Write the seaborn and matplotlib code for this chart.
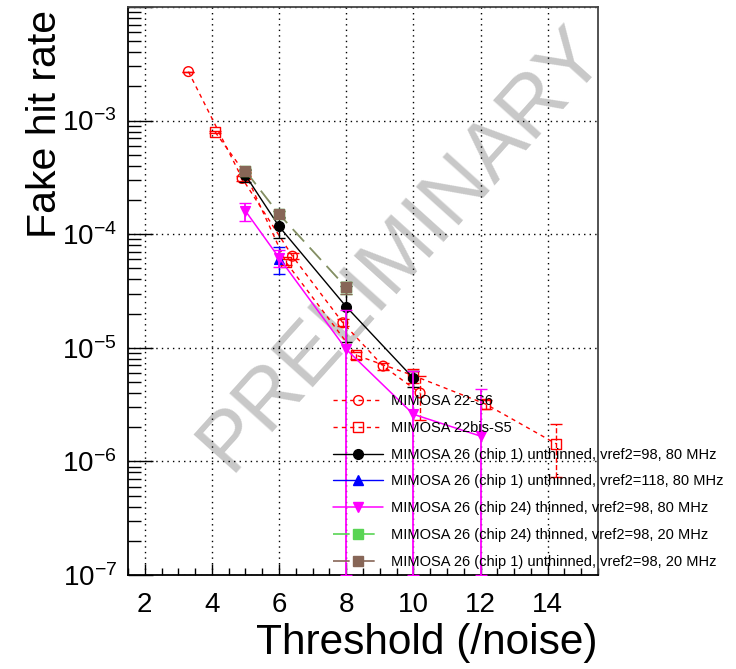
import numpy as np
import matplotlib
matplotlib.use("Agg")
import matplotlib.pyplot as plt
import seaborn as sns
from matplotlib.lines import Line2D
from matplotlib.ticker import MultipleLocator, LogLocator, FuncFormatter, NullFormatter

# MIMOSA 22-S6
s6_thr = [3.3, 4.9, 6.4, 7.9, 9.1, 10.2]
s6_rate = [2.7e-3, 3.1e-4, 6.4e-5, 1.66e-5, 6.9e-6, 4.0e-6]
s6_err = [0, 1.5e-5, 4e-6, 1.2e-6, 5e-7, 1.7e-6]

# MIMOSA 22bis-S5
s5_thr = [4.1, 5.0, 6.2, 8.3, 10.0, 12.15, 14.25]
s5_rate = [7.9e-4, 3.4e-4, 5.7e-5, 8.6e-6, 5.7e-6, 3.2e-6, 1.43e-6]
s5_err = [2e-5, 1.5e-5, 3e-6, 6e-7, 8e-7, 3e-7, 7e-7]

# MIMOSA 26 (chip 1) unthinned, vref2=98, 80 MHz
c1_80_thr = [5, 6, 8, 10]
c1_80_rate = [3.3e-4, 1.17e-4, 2.3e-5, 5.4e-6]
c1_80_err = [4e-5, 2.4e-5, 1.17e-5, 9e-7]

# MIMOSA 26 (chip 1) unthinned, vref2=118, 80 MHz
c1_118_thr = [6]
c1_118_rate = [6.1e-5]
c1_118_err = [1.6e-5]

# MIMOSA 26 (chip 24) thinned, vref2=98, 80 MHz
c24_80_thr = [5, 6, 8, 10, 12]
c24_80_rate = [1.6e-4, 6.2e-5, 9.7e-6, 2.6e-6, 1.67e-6]
c24_80_errlo = [2.9e-5, 1.1e-5, 9.7e-6, 2.6e-6, 1.67e-6]
c24_80_errhi = [2.8e-5, 1.1e-5, 1.2e-5, 3.6e-6, 2.7e-6]

# MIMOSA 26 (chip 24) thinned, vref2=98, 20 MHz
c24_20_thr = [5, 6, 8]
c24_20_rate = [3.6e-4, 1.5e-4, 3.4e-5]
c24_20_err = [1.7e-5, 1e-5, 4e-6]

# MIMOSA 26 (chip 1) unthinned, vref2=98, 20 MHz
c1_20_thr = [5, 6, 8]
c1_20_rate = [3.6e-4, 1.5e-4, 3.4e-5]
c1_20_err = [1.7e-5, 1e-5, 4e-6]

labels = ["MIMOSA 22-S6", "MIMOSA 22bis-S5",
          "MIMOSA 26 (chip 1) unthinned, vref2=98, 80 MHz",
          "MIMOSA 26 (chip 1) unthinned, vref2=118, 80 MHz",
          "MIMOSA 26 (chip 24) thinned, vref2=98, 80 MHz",
          "MIMOSA 26 (chip 24) thinned, vref2=98, 20 MHz",
          "MIMOSA 26 (chip 1) unthinned, vref2=98, 20 MHz"]

YMIN, YMAX = 1e-7, 1e-2

sns.set_style("white")
plt.rcParams["font.family"] = ["Liberation Sans", "DejaVu Sans"]
plt.rcParams["mathtext.fontset"] = "custom"
plt.rcParams["mathtext.rm"] = "Liberation Sans"
plt.rcParams["text.color"] = "black"
plt.rcParams["axes.labelcolor"] = "black"
plt.rcParams["xtick.color"] = "black"
plt.rcParams["ytick.color"] = "black"

fig = plt.figure(figsize=(7.36, 6.69), dpi=100)
ax = fig.add_axes([128 / 736, 94 / 669, 470 / 736, 568 / 669])

red = "#ff0000"
brown = "#876657"
green = "#59d454"
magenta = "#ff00ff"

series = [
    dict(x=s6_thr, y=s6_rate, lo=s6_err, hi=s6_err, color=red, ls=(0, (3, 3)), lw=1,
         marker="o", mfc="none", ms=7, elw=1, els="--"),
    dict(x=s5_thr, y=s5_rate, lo=s5_err, hi=s5_err, color=red, ls=(0, (3, 3)), lw=1,
         marker="s", mfc="none", ms=7, elw=1, els="--"),
    dict(x=c1_80_thr, y=c1_80_rate, lo=c1_80_err, hi=c1_80_err, color="black", ls="-", lw=1,
         marker="o", mfc="black", ms=7, elw=1, els="-"),
    dict(x=c1_118_thr, y=c1_118_rate, lo=c1_118_err, hi=c1_118_err, color="#0000ff", ls="-", lw=1,
         marker="^", mfc="#0000ff", ms=7, elw=1, els="-"),
    dict(x=c24_80_thr, y=c24_80_rate, lo=c24_80_errlo, hi=c24_80_errhi, color=magenta, ls="-", lw=1.1,
         marker="v", mfc=magenta, ms=7, elw=1.3, els="-"),
    dict(x=c24_20_thr, y=c24_20_rate, lo=c24_20_err, hi=c24_20_err, color=green, ls=(0, (10, 5)), lw=1.2,
         marker="s", mfc=green, ms=7, elw=1, els="-"),
    dict(x=c1_20_thr, y=c1_20_rate, lo=c1_20_err, hi=c1_20_err, color=brown, ls=(0, (10, 5)), lw=1.2,
         marker="s", mfc=brown, ms=7, elw=1, els="-"),
]

# watermark
ax.text(0.58, 0.575, "PRELIMINARY", transform=ax.transAxes, rotation=48,
        ha="center", va="center", fontsize=60, color="#c8c8c8", zorder=0)

handles = []
for i, s in enumerate(series):
    y = np.array(s["y"])
    low = np.maximum(y - np.array(s["lo"]), YMIN)
    high = y + np.array(s["hi"])
    eb = ax.errorbar(s["x"], y, yerr=[y - low, high - y], fmt="none",
                     ecolor=s["color"], elinewidth=s["elw"], capsize=4,
                     capthick=1, zorder=3 + i)
    eb[2][0].set_linestyle(s["els"])
    alpha = 0.7 if s["color"] in (green, brown) else 1.0
    sns.lineplot(x=s["x"], y=s["y"], ax=ax, estimator=None, sort=False,
                 color=s["color"], linestyle=s["ls"], linewidth=s["lw"], alpha=alpha,
                 zorder=3 + i)
    sns.scatterplot(x=s["x"], y=s["y"], ax=ax, marker=s["marker"], s=s["ms"] ** 2,
                    facecolor=s["mfc"], edgecolor=s["color"], linewidth=1,
                    zorder=4 + i)
    handles.append(Line2D([], [], color=s["color"], linestyle=s["ls"], linewidth=s["lw"],
                          marker=s["marker"], markersize=s["ms"], markerfacecolor=s["mfc"],
                          markeredgecolor=s["color"]))

ax.set_yscale("log")
ax.set_xlim(1.5, 15.5)
ax.set_ylim(YMIN, YMAX)

ax.xaxis.set_major_locator(MultipleLocator(2))
ax.xaxis.set_minor_locator(MultipleLocator(0.5))
ax.yaxis.set_major_locator(LogLocator(base=10))
ax.yaxis.set_minor_locator(LogLocator(base=10, subs=np.arange(2, 10)))
ax.yaxis.set_minor_formatter(NullFormatter())
ax.yaxis.set_major_formatter(FuncFormatter(
    lambda v, p: r"$\mathregular{10^{%d}}$" % round(np.log10(v)) if v < 2e-3 else ""))

ax.tick_params(axis="both", which="both", direction="in", top=False, right=False,
               left=True, bottom=True, labelsize=20, color="black")
ax.tick_params(axis="y", which="major", length=18, width=1, pad=8)
ax.tick_params(axis="y", which="minor", length=9, width=1)
ax.tick_params(axis="x", which="major", length=8, width=1, pad=12)
ax.tick_params(axis="x", which="minor", length=5, width=1)

ax.grid(True, which="major", linestyle=(0, (1, 3)), color="black", linewidth=1)
for sp in ax.spines.values():
    sp.set_color("#444444")
    sp.set_linewidth(1.3)
ax.spines["left"].set_color("black")
ax.spines["bottom"].set_color("black")

ax.set_xlabel("Threshold (/noise)", fontsize=30.5, loc="right", labelpad=4)
ax.set_ylabel("Fake hit rate", fontsize=29.5, loc="top", va="center")
ax.yaxis.set_label_coords(-(128 - 45) / 470, 0.995)

fig.legend(handles, labels, loc="upper left", bbox_to_anchor=(333 / 736, 1 - 394 / 669),
           frameon=False, fontsize=10.5, handlelength=3.4, handletextpad=0.6,
           labelspacing=0.88, borderpad=0, borderaxespad=0)

fig.savefig("out.png", dpi=100)
